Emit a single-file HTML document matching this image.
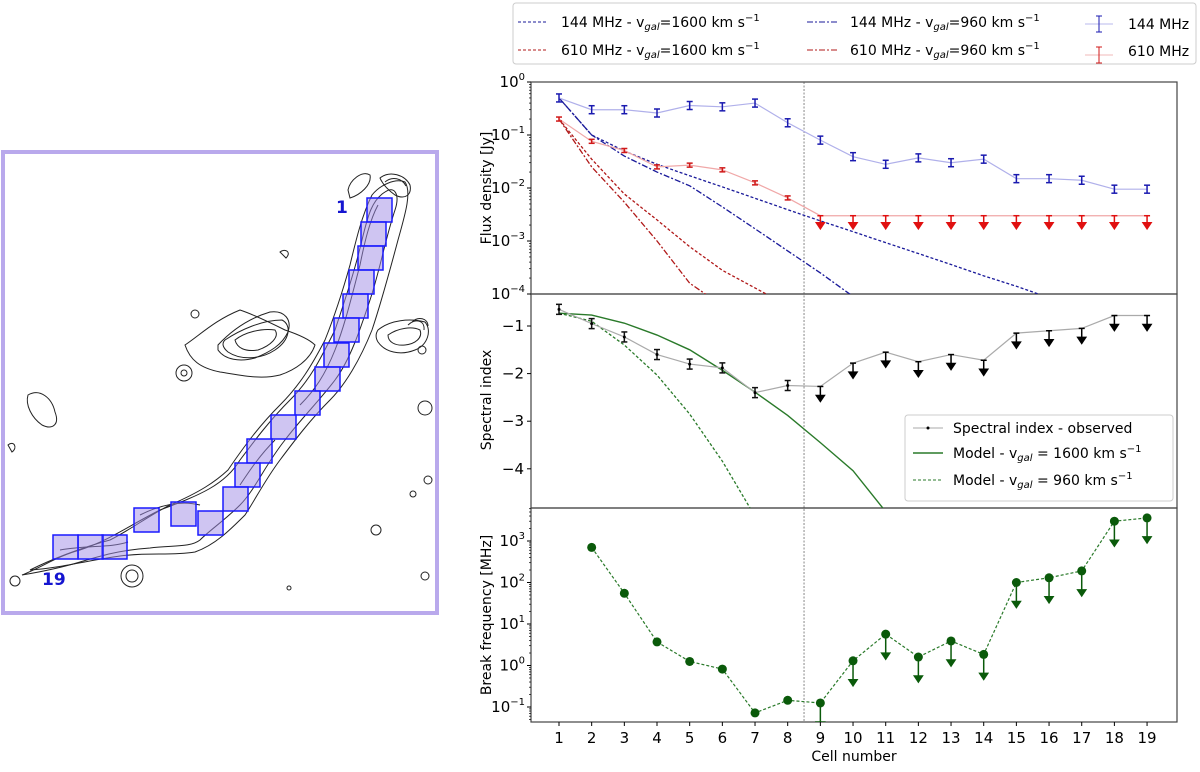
<!DOCTYPE html>
<html><head><meta charset="utf-8"><style>
body{margin:0;background:#fff;width:1200px;height:767px;overflow:hidden;font-family:"Liberation Sans","DejaVu Sans",sans-serif}
svg text{font-family:"DejaVu Sans","Liberation Sans",sans-serif}
</style></head><body>
<svg id="fig" width="1200" height="767" viewBox="0 0 1200 767" xmlns="http://www.w3.org/2000/svg">
<g id="left">
<rect x="3" y="152" width="434" height="461" fill="#fff" stroke="#b9a9ec" stroke-width="4"/>
<g fill="none" stroke="#222" stroke-width="1">
<path d="M22,575 C40,568 60,555 80,550 C110,540 130,525 160,510 C200,495 225,485 240,460 C255,440 270,420 290,400 C310,380 320,360 335,330 C345,300 355,270 362,240 C368,215 372,200 385,192 C395,185 400,195 395,210 C385,240 380,270 370,300 C360,330 350,360 335,380 C320,400 300,420 285,440 C265,465 255,490 240,505 C225,520 210,530 200,540 C190,548 170,545 150,548 C120,550 100,556 80,562 C60,568 40,572 22,575Z"/>
<path d="M30,570 C50,560 80,548 110,540 C130,530 150,515 170,505 C200,492 215,482 228,470 C245,445 260,425 280,405 C300,385 312,365 325,340 C335,315 343,290 350,265 C356,240 362,215 372,195 C380,185 395,178 405,182 C412,192 405,215 398,240 C390,270 382,300 372,330 C360,360 345,385 330,400 C310,420 295,440 280,460 C265,480 255,500 245,515 C230,530 215,545 195,552 C170,556 150,552 120,556 C90,560 60,568 30,570Z"/>
<path d="M60,550 C90,545 110,548 128,542 M140,515 C160,505 180,500 200,505 M240,485 C250,470 260,455 275,440 M300,405 C315,390 325,375 335,350 C345,325 352,295 360,265 C365,240 370,220 378,205"/>
<path d="M380,178 C390,170 405,175 410,185 C412,195 405,200 395,195 C388,190 383,185 380,178Z"/>
<path d="M385,182 C392,176 402,178 406,186"/>
<path d="M185,345 C200,335 215,320 240,310 C255,315 275,325 285,330 C300,335 310,340 315,345 C310,360 295,370 280,375 C260,380 240,375 220,372 C200,368 190,360 185,345Z"/>
<path d="M218,345 C232,330 250,318 270,312 C285,310 292,320 288,332 C282,345 270,352 255,358 C240,362 225,360 218,350Z"/>
<path d="M225,340 C240,330 262,320 282,320 C292,325 290,340 275,350 C260,360 240,360 228,352 C222,347 222,343 225,340Z"/>
<path d="M235,340 C245,332 262,328 275,330 C280,337 270,346 258,350 C245,352 237,348 235,340Z"/>
<path d="M378,330 C390,320 410,318 425,322 C432,330 428,345 415,350 C400,356 385,352 378,342 C375,337 376,333 378,330Z"/>
<path d="M388,335 C398,328 412,326 420,330 C423,338 415,344 405,345 C395,346 388,342 388,335Z"/>
<path d="M412,322 C418,316 428,318 428,326 M408,325 C415,318 425,320 424,330"/>
<circle cx="184" cy="373" r="8"/><circle cx="184" cy="373" r="3"/>
<path d="M28,395 C40,388 52,398 55,412 C60,425 52,430 42,425 C32,418 25,405 28,395Z"/>
<circle cx="132" cy="576" r="11"/><circle cx="132" cy="576" r="6"/>
<circle cx="15" cy="581" r="5"/>
<path d="M8,445 C14,440 18,448 12,452 Z"/>
<circle cx="195" cy="314" r="4"/>
<path d="M280,252 C285,248 292,252 286,258 Z M350,198 C360,195 372,185 370,175 C362,170 350,180 348,190Z"/>
<circle cx="425" cy="408" r="7"/><circle cx="428" cy="480" r="4"/><circle cx="413" cy="494" r="3"/><circle cx="376" cy="530" r="5"/><circle cx="425" cy="576" r="4"/><circle cx="289" cy="588" r="2"/><circle cx="422" cy="350" r="4"/>
</g>
<g id="cells"></g>
<text x="336" y="213" font-size="17" font-weight="bold" fill="#1515d0">1</text>
<text x="42" y="585" font-size="17" font-weight="bold" fill="#1515d0">19</text>
</g>

<g id="legend-top">
<rect x="513" y="3" width="683" height="61" fill="#fff" stroke="#ccc" rx="3"/>
<line x1="518" y1="22" x2="548" y2="22" stroke="#1a1a9a" stroke-dasharray="3,2"/>
<text x="561" y="27" font-size="14">144 MHz - v<tspan font-size="10" dy="3" font-style="italic">gal</tspan><tspan dy="-3">=1600 km s</tspan><tspan font-size="10" dy="-6">−1</tspan></text>
<line x1="518" y1="50" x2="548" y2="50" stroke="#b01818" stroke-dasharray="3,2"/>
<text x="561" y="55" font-size="14">610 MHz - v<tspan font-size="10" dy="3" font-style="italic">gal</tspan><tspan dy="-3">=1600 km s</tspan><tspan font-size="10" dy="-6">−1</tspan></text>
<line x1="807" y1="22" x2="837" y2="22" stroke="#1a1a9a" stroke-dasharray="6,2,2,2"/>
<text x="850" y="27" font-size="14">144 MHz - v<tspan font-size="10" dy="3" font-style="italic">gal</tspan><tspan dy="-3">=960 km s</tspan><tspan font-size="10" dy="-6">−1</tspan></text>
<line x1="807" y1="50" x2="837" y2="50" stroke="#b01818" stroke-dasharray="6,2,2,2"/>
<text x="850" y="55" font-size="14">610 MHz - v<tspan font-size="10" dy="3" font-style="italic">gal</tspan><tspan dy="-3">=960 km s</tspan><tspan font-size="10" dy="-6">−1</tspan></text>
<g stroke="#1a1ab0"><line x1="1085" y1="24" x2="1113" y2="24" stroke="#b8b8ee"/><line x1="1099" y1="16" x2="1099" y2="32"/><line x1="1096" y1="16" x2="1102" y2="16"/><line x1="1096" y1="32" x2="1102" y2="32"/></g>
<text x="1128" y="29" font-size="14">144 MHz</text>
<g stroke="#d01818"><line x1="1085" y1="55" x2="1113" y2="55" stroke="#f2b8b8"/><line x1="1099" y1="47" x2="1099" y2="63"/><line x1="1096" y1="47" x2="1102" y2="47"/><line x1="1096" y1="63" x2="1102" y2="63"/></g>
<text x="1128" y="56" font-size="14">610 MHz</text>
</g>
<g id="plots"></g>
</svg>
<script>
// ---- data ----
const cells = [1,2,3,4,5,6,7,8,9,10,11,12,13,14,15,16,17,18,19];
const flux144 = [0.5,0.3,0.3,0.26,0.36,0.34,0.4,0.17,0.08,0.039,0.028,0.037,0.03,0.035,0.015,0.015,0.014,0.0095,0.0095];
const flux610 = [0.2,0.076,0.051,0.025,0.027,0.022,0.0125,0.0065,0.003,0.003,0.003,0.003,0.003,0.003,0.003,0.003,0.003,0.003,0.003];
const flux610Limit = [0,0,0,0,0,0,0,0,1,1,1,1,1,1,1,1,1,1,1];
const model144v1600 = [0.5,0.1,0.05,0.028,0.017,0.0105,0.0064,0.0039,0.0024,0.0015,0.00093,0.00058,0.00036,0.00022,0.00014,0.000085];
const model144v960 = [0.5,0.1,0.04,0.02,0.011,0.0044,0.0017,0.00065,0.00025,0.00009];
const model610v1600 = [0.2,0.035,0.0077,0.0025,0.00078,0.00028,0.00013,0.00006];
const model610v960 = [0.2,0.025,0.0054,0.001,0.00016,0.00006];
const alphaObs = [-0.65,-0.95,-1.23,-1.6,-1.8,-1.88,-2.4,-2.25,-2.27,-1.78,-1.55,-1.75,-1.6,-1.72,-1.15,-1.1,-1.05,-0.78,-0.78];
const alphaLimit = [0,0,0,0,0,0,0,0,1,1,1,1,1,1,1,1,1,1,1];
const alphaModel1600 = [-0.73,-0.77,-0.94,-1.19,-1.5,-1.93,-2.39,-2.88,-3.45,-4.04,-4.9];
const alphaModel960 = [-0.73,-0.9,-1.4,-2.03,-2.85,-3.84,-5.0];
const breakCells = [2,3,4,5,6,7,8,9,10,11,12,13,14,15,16,17,18,19];
const breakFreq = [700,55,3.7,1.25,0.82,0.072,0.145,0.125,1.3,5.7,1.6,3.9,1.85,100,130,190,3000,3600];
const breakLimit = [0,0,0,0,0,0,0,1,1,1,1,1,1,1,1,1,1,1];
const fluxTicks = ['0','−1','−2','−3','−4'];
const alphaTicks = [-1,-2,-3,-4];
const breakTicks = ['3','2','1','0','−1'];
const cellBoxes = [[367,198],[361,222],[358,246],[349,270],[343,294],[334,318],[324,343],[315,367],[295,391],[271,415],[247,439],[235,463],[223,487],[198,511],[171,502],[134,508],[102,535],[78,535],[53,535]];

// ---- layout ----
const NS='http://www.w3.org/2000/svg';
const XL=531,XR=1177;
const X=c=>559+(c-1)*32.67;
const yFlux=v=>82-Math.log10(v)*53;
const yAlpha=a=>326-(a+1)*47.6;
const yBreak=v=>541+(3-Math.log10(v))*41.5;
const P1=[82,294],P2=[294,508],P3=[508,722];
const plots=document.getElementById('plots');
function el(tag,attrs,parent){const e=document.createElementNS(NS,tag);for(const k in attrs)e.setAttribute(k,attrs[k]);(parent||plots).appendChild(e);return e;}
function clipG(id,top,bot){const cp=el('clipPath',{id:id});el('rect',{x:XL,y:top,width:XR-XL,height:bot-top},cp);const g=el('g',{'clip-path':'url(#'+id+')'});return g;}
function poly(xs,ys,style,parent,name){const p=el('polyline',Object.assign({points:xs.map((x,i)=>x+','+ys[i]).join(' '),fill:'none'},style),parent);

return p;}
function errbar(x,y,h,color,parent,name){const g=el('g',{stroke:color,'stroke-width':1.5},parent);


el('line',{x1:x,y1:y-h,x2:x,y2:y+h},g);el('line',{x1:x-3,y1:y-h,x2:x+3,y2:y-h},g);el('line',{x1:x-3,y1:y+h,x2:x+3,y2:y+h},g);}
function arrow(x,y,len,color,parent,name){const g=el('g',{stroke:color,fill:color,'stroke-width':1.5},parent);


el('line',{x1:x,y1:y,x2:x,y2:y+len-5},g);el('path',{d:`M${x-4},${y+len-6} L${x+4},${y+len-6} L${x},${y+len} Z`},g);el('line',{x1:x-3,y1:y,x2:x+3,y2:y},g);}

const cg=document.getElementById('cells');
cellBoxes.forEach((b,i)=>{const r=el('rect',{x:b[0],y:b[1],width:25,height:24,fill:'rgba(160,140,230,0.5)',stroke:'#1a1aff','stroke-width':1.5},cg);

});

[P1,P2,P3].forEach((p,i)=>{const r=el('rect',{x:XL,y:p[0],width:XR-XL,height:p[1]-p[0],fill:'none',stroke:'#444','stroke-width':1.2});

});
const vl=el('line',{x1:X(8.5),y1:82,x2:X(8.5),y2:722,stroke:'#555','stroke-width':0.7,'stroke-dasharray':'2,1.5'});



fluxTicks.forEach((t,i)=>{const y=yFlux(Math.pow(10,-i));el('line',{x1:XL-4,y1:y,x2:XL,y2:y,stroke:'#000'});
const tx=el('text',{x:XL-6,y:y+5,'font-size':15,'text-anchor':'end'});tx.innerHTML='10<tspan font-size="10" dy="-7">'+t+'</tspan>';


if(i<4)for(let m=2;m<10;m++){const ym=yFlux(Math.pow(10,-i-1)*m);el('line',{x1:XL-2,y1:ym,x2:XL,y2:ym,stroke:'#000','stroke-width':0.7});}});
const g1=clipG('c1',P1[0],P1[1]);
poly(model144v1600.map((v,i)=>X(cells[i])),model144v1600.map(yFlux),{stroke:'#1a1a9a','stroke-width':1.3,'stroke-dasharray':'3,2'},g1,'model-144-1600');
poly(model144v960.map((v,i)=>X(cells[i])),model144v960.map(yFlux),{stroke:'#1a1a9a','stroke-width':1.3,'stroke-dasharray':'6,2,2,2'},g1,'model-144-960');
poly(model610v1600.map((v,i)=>X(cells[i])),model610v1600.map(yFlux),{stroke:'#b01818','stroke-width':1.3,'stroke-dasharray':'3,2'},g1,'model-610-1600');
poly(model610v960.map((v,i)=>X(cells[i])),model610v960.map(yFlux),{stroke:'#b01818','stroke-width':1.3,'stroke-dasharray':'6,2,2,2'},g1,'model-610-960');
poly(cells.map(X),flux144.map(yFlux),{stroke:'#b0b0ea','stroke-width':1.2},g1,'line-144');
poly(cells.map(X),flux610.map(yFlux),{stroke:'#f0a8a8','stroke-width':1.2},g1,'line-610');
cells.forEach((c,i)=>{errbar(X(c),yFlux(flux144[i]),4,'#1a1ab0',g1,'point-144-cell-'+c);
if(flux610Limit[i])arrow(X(c),yFlux(flux610[i]),13,'#e01010',g1,'limit-610-cell-'+c);else errbar(X(c),yFlux(flux610[i]),2,'#d01818',g1,'point-610-cell-'+c);});
const yl1=el('text',{x:0,y:0,'font-size':14,'text-anchor':'middle',transform:'translate(491,188) rotate(-90)'});yl1.textContent='Flux density [Jy]';



alphaTicks.forEach(t=>{const y=yAlpha(t);el('line',{x1:XL-4,y1:y,x2:XL,y2:y,stroke:'#000'});const tx=el('text',{x:XL-7,y:y+5,'font-size':15,'text-anchor':'end'});tx.textContent='−'+Math.abs(t);

});
const g2=clipG('c2',P2[0],P2[1]);
poly(alphaModel1600.map((v,i)=>X(cells[i])),alphaModel1600.map(yAlpha),{stroke:'#2a7a2a','stroke-width':1.4},g2,'model-alpha-1600');
poly(alphaModel960.map((v,i)=>X(cells[i])),alphaModel960.map(yAlpha),{stroke:'#2a7a2a','stroke-width':1.3,'stroke-dasharray':'3,2'},g2,'model-alpha-960');
poly(cells.map(X),alphaObs.map(yAlpha),{stroke:'#aaa','stroke-width':1.2},g2,'line-alpha');
cells.forEach((c,i)=>{if(alphaLimit[i])arrow(X(c),yAlpha(alphaObs[i]),15,'#000',g2,'limit-alpha-cell-'+c);else{errbar(X(c),yAlpha(alphaObs[i]),5,'#111',g2,'point-alpha-cell-'+c);el('circle',{cx:X(c),cy:yAlpha(alphaObs[i]),r:1.5,fill:'#000'},g2);}});
const yl2=el('text',{x:0,y:0,'font-size':14,'text-anchor':'middle',transform:'translate(491,400) rotate(-90)'});yl2.textContent='Spectral index';


const lg=el('g',{});


el('rect',{x:905,y:415,width:268,height:86,fill:'#fff',stroke:'#ccc',rx:3},lg);
el('line',{x1:913,y1:428,x2:943,y2:428,stroke:'#aaa'},lg);el('circle',{cx:928,cy:428,r:1.5,fill:'#000'},lg);
el('line',{x1:913,y1:453,x2:943,y2:453,stroke:'#2a7a2a','stroke-width':1.4},lg);
el('line',{x1:913,y1:480,x2:943,y2:480,stroke:'#2a7a2a','stroke-dasharray':'3,2'},lg);
[['Spectral index - observed',433],['Model - v<tspan font-size="10" dy="3" font-style="italic">gal</tspan><tspan dy="-3"> = 1600 km s</tspan><tspan font-size="10" dy="-6">−1</tspan>',458],['Model - v<tspan font-size="10" dy="3" font-style="italic">gal</tspan><tspan dy="-3"> = 960 km s</tspan><tspan font-size="10" dy="-6">−1</tspan>',485]].forEach(e=>{const t=el('text',{x:953,y:e[1],'font-size':14},lg);t.innerHTML=e[0];

});

breakTicks.forEach((t,i)=>{const y=yBreak(Math.pow(10,3-i));el('line',{x1:XL-4,y1:y,x2:XL,y2:y,stroke:'#000'});
const tx=el('text',{x:XL-6,y:y+5,'font-size':15,'text-anchor':'end'});tx.innerHTML='10<tspan font-size="10" dy="-7">'+t+'</tspan>';

});
for(let d=-2;d<=3;d++)for(let m=2;m<10;m++){const ym=yBreak(Math.pow(10,d)*m);if(ym>P3[0]&&ym<P3[1])el('line',{x1:XL-2,y1:ym,x2:XL,y2:ym,stroke:'#000','stroke-width':0.7});}
const g3=clipG('c3',P3[0],P3[1]);
poly(breakCells.map(X),breakFreq.map(yBreak),{stroke:'#2a7a2a','stroke-width':1.2,'stroke-dasharray':'3,2'},g3,'line-break');
breakCells.forEach((c,i)=>{if(breakLimit[i])arrow(X(c),yBreak(breakFreq[i]),25,'#0a5a0a',g3,'limit-break-cell-'+c);
const d=el('circle',{cx:X(c),cy:yBreak(breakFreq[i]),r:4.5,fill:'#0a5a0a'},g3);

});
const yl3=el('text',{x:0,y:0,'font-size':14,'text-anchor':'middle',transform:'translate(491,615) rotate(-90)'});yl3.textContent='Break frequency [MHz]';


cells.forEach(c=>{el('line',{x1:X(c),y1:722,x2:X(c),y2:726,stroke:'#000'});const t=el('text',{x:X(c),y:743,'font-size':15,'text-anchor':'middle'});t.textContent=c;

});
const xt=el('text',{x:854,y:761,'font-size':14,'text-anchor':'middle'});xt.textContent='Cell number';


</script>
</body></html>
